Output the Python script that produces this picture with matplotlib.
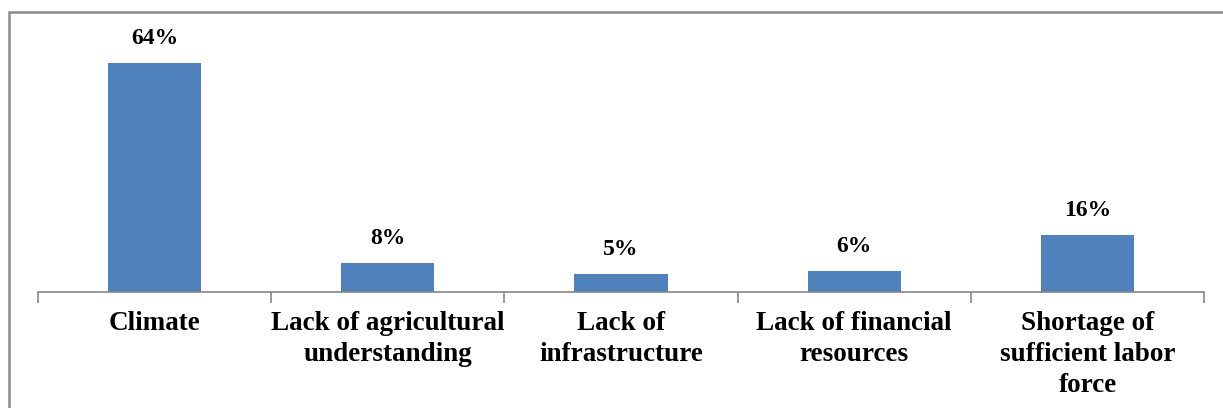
import matplotlib.pyplot as plt
from matplotlib.patches import Rectangle
import numpy as np

# Constraints reported by respondents (share of answers, %)
categories = ['Climate', 'Lack of agricultural\nunderstanding', 'Lack of\ninfrastructure',
              'Lack of financial\nresources', 'Shortage of\nsufficient labor\nforce']
shares = [64, 8, 5, 6, 16]

W, H = 1223, 408
fig = plt.figure(figsize=(W / 100, H / 100), dpi=100)
plt.rcParams['font.family'] = ['Liberation Serif', 'DejaVu Serif']

# outer frame of the chart area
fig.patches.append(Rectangle((9 / W, -0.5), 2.0, (H - 12) / H + 0.5,
                             transform=fig.transFigure, fill=False,
                             edgecolor='#8c8c8c', linewidth=1.8))

ax = fig.add_axes([38 / W, (H - 292) / H, (1204 - 38) / W, 272 / H])
x = np.arange(len(categories))
bars = ax.bar(x, shares, width=0.4, color='#4f81bd')

for b, v in zip(bars, shares):
    ax.annotate(f'{v}%', (b.get_x() + b.get_width() / 2, v),
                xytext=(0, 10), textcoords='offset points',
                ha='center', va='bottom', fontsize=17, fontweight='bold')

ax.set_xlim(-0.5, len(categories) - 0.5)
ax.set_ylim(0, 272 / 3.578)

# category labels centred, tick marks on the boundaries
ax.set_xticks(x)
ax.set_xticklabels(categories, fontsize=19.5, fontweight='bold', linespacing=1.3)
ax.tick_params(axis='x', which='major', length=0, pad=14)
ax.set_xticks(np.arange(len(categories) + 1) - 0.5, minor=True)
ax.tick_params(axis='x', which='minor', length=8, width=1.2, color='#868686')
ax.set_yticks([])

for s in ['top', 'right', 'left']:
    ax.spines[s].set_visible(False)
ax.spines['bottom'].set_color('#868686')
ax.spines['bottom'].set_linewidth(1.2)

fig.savefig('out.png', dpi=100)
